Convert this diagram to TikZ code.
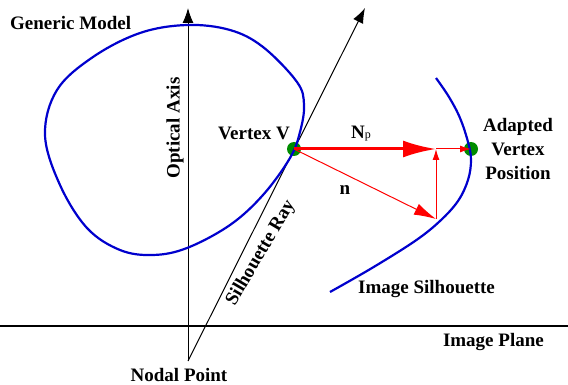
\documentclass[tikz,border=0pt]{standalone}
\usepackage{fontspec}
\setmainfont{Liberation Serif}
\usetikzlibrary{arrows.meta}
\tikzset{
 lbl/.style={font=\fontsize{19}{24}\selectfont\bfseries,inner sep=0pt},
 curve/.style={draw={rgb,255:red,0;green,0;blue,205},line width=2.2pt},
 ray/.style={draw=black,line width=1pt,-{Latex[length=15pt,width=11pt]}},
 redthin/.style={draw=red,line width=1pt},
 dotv/.style={circle,fill={rgb,255:red,0;green,140;blue,0},minimum size=14pt,inner sep=0pt},
}
\begin{document}
\begin{tikzpicture}[x=1pt,y=-1pt]
\useasboundingbox (0,0) rectangle (568,385);
\coordinate (nodal) at (188,361);
\coordinate (axistop) at (188,8);
\coordinate (raytop) at (365,8);
\coordinate (pl) at (0,326);
\coordinate (pr) at (568,326);
\coordinate (v) at (294,149);
\coordinate (a) at (471,149);
\coordinate (m) at (436,149);
\coordinate (t) at (436,219);
\coordinate (bigtip) at (436,149);
\draw[black,line width=2pt] (pl) -- (pr);
\draw[ray] (nodal) -- (axistop);
\draw[ray] (nodal) -- (raytop);
\node[dotv] (vd) at (v) {};
\node[dotv] (ad) at (a) {};
\draw[curve] plot[smooth cycle,tension=0.6] coordinates {(187,25) (230,30) (263,47) (297,82) (304,105) (300,132) (290,158) (263,195) (230,225) (187,248) (153,255) (120,250) (87,228) (60,185) (45,135) (57,90) (93,57) (140,33)};
\draw[curve] plot[smooth,tension=0.6] coordinates {(436,78) (449,97) (460,118) (468,142) (471,160) (468,180) (458,201) (440,221) (415,241) (372,268) (330,292)};
\draw[red,line width=3pt,-{Latex[length=33pt,width=17pt]}] (v) -- (bigtip);
\draw[redthin,-{Latex[length=11pt,width=7pt]}] (m) -- (a);
\draw[redthin,-{Latex[length=22pt,width=12pt]}] (v) -- (t);
\draw[redthin,-{Latex[length=11pt,width=7pt]}] (t) -- (m);
\node[lbl,anchor=west] (gm) at (10,23) {Generic Model};
\node[lbl,rotate=90] (oa) at (175,128) {Optical Axis};
\node[lbl,anchor=east] (vv) at (290,133) {Vertex V};
\node[lbl,anchor=west] (np) at (351,134) {N\textmd{\fontsize{12}{12}\selectfont p}};
\node[lbl] (n) at (345,190) {n};
\node[lbl,rotate=59.5] (sr) at (261,253) {Silhouette Ray};
\node[lbl,align=center] (av) at (518,149) {Adapted\\Vertex\\Position};
\node[lbl,anchor=west] (is) at (358,289) {Image Silhouette};
\node[lbl,anchor=east] (ip) at (544,342) {Image Plane};
\node[lbl] (np2) at (179,375) {Nodal Point};
\end{tikzpicture}
\end{document}
